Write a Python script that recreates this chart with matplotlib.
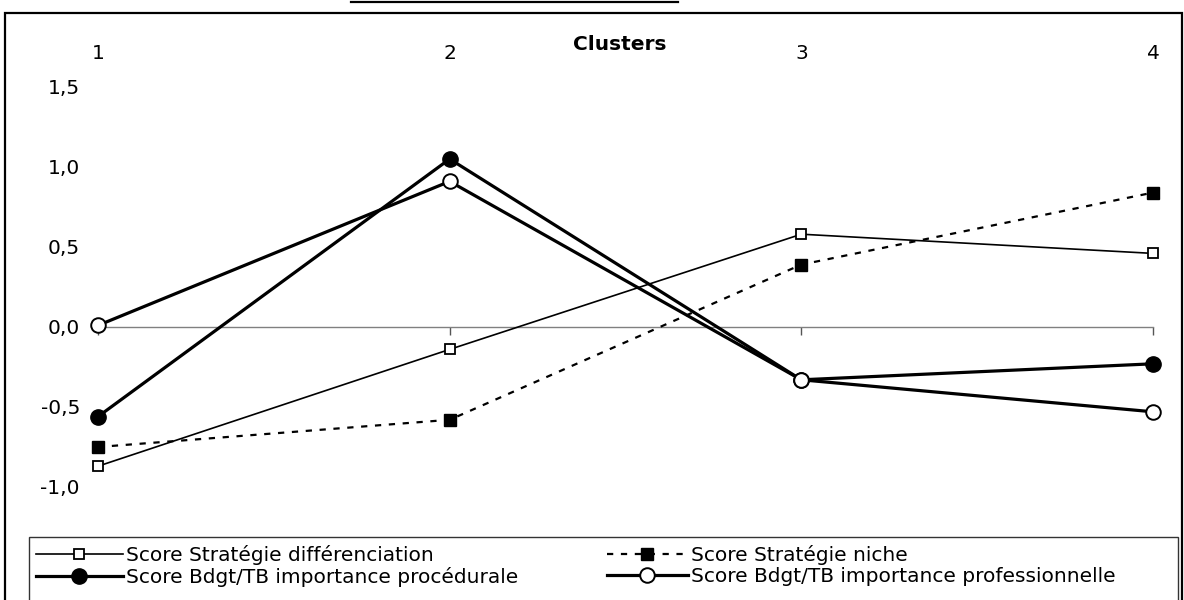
import matplotlib
matplotlib.use('Agg')
import matplotlib.pyplot as plt
from matplotlib.lines import Line2D
from matplotlib.patches import Rectangle

# ---- data ----
clusters = [1, 2, 3, 4]
cluster_labels = ['1', '2', '3', '4']
score_diff = [-0.87, -0.14, 0.58, 0.46]
score_niche = [-0.75, -0.58, 0.39, 0.84]
score_proc = [-0.56, 1.05, -0.33, -0.23]
score_prof = [0.01, 0.91, -0.33, -0.53]
yticks = [-1.0, -0.5, 0.0, 0.5, 1.0, 1.5]
ytick_labels = ['-1,0', '-0,5', '0,0', '0,5', '1,0', '1,5']
series_labels = ['Score Stratégie différenciation',
                 'Score Stratégie niche',
                 'Score Bdgt/TB importance procédurale',
                 'Score Bdgt/TB importance professionnelle']

plt.rcParams['font.family'] = ['DejaVu Sans']
plt.rcParams['lines.scale_dashes'] = False
FS = 14.5

W, H = 1184, 600
fig = plt.figure(figsize=(W / 100, H / 100), dpi=100)


def fx(x):
    return x / W


def fy(y):
    return 1 - y / H


ax = fig.add_axes([fx(98), fy(487), fx(1153) - fx(98), fy(87) - fy(487)])
ax.set_xlim(1, 4)
ax.set_ylim(-1.0, 1.5)
for s in ['left', 'right', 'top']:
    ax.spines[s].set_visible(False)
ax.spines['bottom'].set_position(('data', 0))
ax.spines['bottom'].set_color('#808080')
ax.spines['bottom'].set_linewidth(1.0)
ax.set_xticks(clusters)
ax.tick_params(axis='x', direction='out', length=6, width=1, color='#555555',
               labelbottom=False)
ax.set_yticks(yticks, ytick_labels)
ax.tick_params(axis='y', length=0, pad=13, labelsize=FS)

sec = ax.secondary_xaxis('top')
sec.set_xticks(clusters, cluster_labels)
sec.tick_params(length=0, pad=17, labelsize=FS)
sec.spines['top'].set_visible(False)

l_diff, = ax.plot(clusters, score_diff, color='black', lw=1.2, marker='s',
                  ms=7.5, mfc='white', mec='black', mew=1.3, clip_on=False, zorder=3)
l_niche, = ax.plot(clusters, score_niche, color='black', lw=1.6, ls=(0, (4.5, 5.5)),
                   marker='s', ms=8, mfc='black', mec='black', clip_on=False, zorder=3)
l_proc, = ax.plot(clusters, score_proc, color='black', lw=2.3, marker='o',
                  ms=11, mfc='black', mec='black', clip_on=False, zorder=4)
l_prof, = ax.plot(clusters, score_prof, color='black', lw=2.3, marker='o',
                  ms=10.5, mfc='white', mec='black', mew=1.4, clip_on=False, zorder=5)

fig.text(fx(620), fy(45), 'Clusters', ha='center', va='center',
         fontweight='bold', fontsize=FS)

# outer frame and cut-off title underline
fig.add_artist(Rectangle((fx(5), fy(606)), fx(1182) - fx(5), fy(13) - fy(606),
                         transform=fig.transFigure, fill=False, ec='black', lw=1.6))
fig.add_artist(Line2D([fx(351), fx(678)], [fy(2), fy(2)], transform=fig.transFigure,
                      color='black', lw=1.6))

# legend box
fig.add_artist(Rectangle((fx(29), fy(610)), fx(1178) - fx(29), fy(537) - fy(610),
                         transform=fig.transFigure, fill=False, ec='#333333', lw=1.0))

leg_kw = dict(loc='upper left', frameon=False, fontsize=FS, borderpad=0,
              handletextpad=0.15, labelspacing=0.08,
              borderaxespad=0, numpoints=1)
leg1 = fig.legend([l_diff, l_proc], [series_labels[0], series_labels[2]],
                  bbox_to_anchor=(fx(36), fy(545)), handlelength=4.3, **leg_kw)
leg2 = fig.legend([l_niche, l_prof], [series_labels[1], series_labels[3]],
                  bbox_to_anchor=(fx(607), fy(545)), handlelength=4.0, **leg_kw)

fig.savefig('out.png', dpi=100)
